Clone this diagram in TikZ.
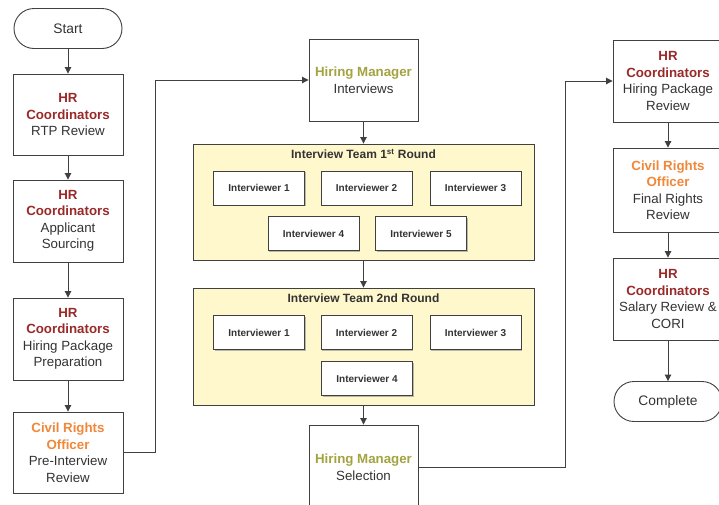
\documentclass[tikz,border=0pt]{standalone}
\usepackage{fontspec}
\setmainfont{Liberation Sans}
\usetikzlibrary{arrows.meta,shadows}
\definecolor{hrc}{HTML}{9A2A2A}
\definecolor{cro}{HTML}{F0883A}
\definecolor{hmc}{HTML}{A3A340}
\definecolor{teamfill}{HTML}{FFF8CC}
\definecolor{txt}{HTML}{333333}
\definecolor{ln}{HTML}{404040}
\newcommand{\hrA}{\textbf{\textcolor{hrc}{HR}}}
\newcommand{\hrB}{\textbf{\textcolor{hrc}{Coordinators}}}
\newcommand{\crA}{\textbf{\textcolor{cro}{Civil Rights}}}
\newcommand{\crB}{\textbf{\textcolor{cro}{Officer}}}
\newcommand{\hmname}{\textbf{\textcolor{hmc}{Hiring Manager}}}
\begin{document}
\begin{tikzpicture}[x=1pt,y=-1pt,
  box/.style={draw=ln, line width=0.9pt, fill=white, align=center, text=txt,
    font=\fontsize{13.3}{16.5}\selectfont, inner sep=0pt, minimum width=110pt, minimum height=82pt},
  term/.style={draw=ln, line width=0.9pt, fill=white, align=center, text=txt,
    font=\fontsize{13.8}{15}\selectfont, inner sep=0pt, minimum width=108pt, minimum height=40pt,
    rounded corners=20pt},
  team/.style={draw=ln, line width=0.9pt, fill=teamfill, inner sep=0pt, minimum width=341pt},
  teamtitle/.style={font=\bfseries\fontsize{12}{13}\selectfont, text=black!80},
  iv/.style={draw=ln, line width=0.9pt, fill=white, inner sep=0pt, minimum width=91pt, minimum height=34pt,
    font=\bfseries\fontsize{10}{11}\selectfont, text=txt,
    drop shadow={shadow xshift=1pt, shadow yshift=-1pt, fill=black!45, opacity=0.6}},
  arr/.style={draw=ln, line width=0.9pt, -{Triangle[length=6.5pt,width=6.5pt]}}
]
\useasboundingbox (0,0) rectangle (719,504);
\clip (0,0) rectangle (719,504);

% left column
\node[term] (start) at (68,28.5) {Start};
\node[box, minimum height=81pt] (b1) at (68,114.5) {\hrA\\\hrB\\RTP Review};
\node[box] (b2) at (68,221) {\hrA\\\hrB\\Applicant\\Sourcing};
\node[box] (b3) at (68,339) {\hrA\\\hrB\\Hiring Package\\Preparation};
\node[box, minimum height=81pt] (b4) at (68,452.5) {\crA\\\crB\\Pre-Interview\\Review};

% middle column
\node[box, minimum width=109pt] (hmi) at (363.5,80) {\hmname\\Interviews};
\node[team, minimum height=116pt] (t1) at (363.5,202) {};
\node[teamtitle] (t1t) at (363.5,154) {Interview Team 1\textsuperscript{st} Round};
\node[iv] (a1) at (259,188) {Interviewer 1};
\node[iv] (a2) at (366.5,188) {Interviewer 2};
\node[iv] (a3) at (475.5,188) {Interviewer 3};
\node[iv] (a4) at (313.5,233.5) {Interviewer 4};
\node[iv] (a5) at (421,233.5) {Interviewer 5};

\node[team, minimum height=117pt] (t2) at (363.5,346.5) {};
\node[teamtitle] (t2t) at (363.5,298) {Interview Team 2nd Round};
\node[iv] (c1) at (259,332.5) {Interviewer 1};
\node[iv] (c2) at (366.5,332.5) {Interviewer 2};
\node[iv] (c3) at (475.5,332.5) {Interviewer 3};
\node[iv] (c4) at (367,378.5) {Interviewer 4};

\node[box, minimum width=109pt, minimum height=84pt] (sel) at (363.5,467) {\hmname\\Selection};

% right column
\node[box] (r1) at (668,81) {\hrA\\\hrB\\Hiring Package\\Review};
\node[box, minimum height=84pt] (r2) at (668,190) {\crA\\\crB\\Final Rights\\Review};
\node[box] (r3) at (668,299) {\hrA\\\hrB\\Salary Review \&\\CORI};
\node[term] (done) at (668,401.5) {Complete};

% connectors
\draw[arr] (start) -- (b1);
\draw[arr] (b1) -- (b2);
\draw[arr] (b2) -- (b3);
\draw[arr] (b3) -- (b4);
\coordinate (k1) at (155,80);
\draw[arr] (b4.east) -| (k1) -- (hmi.west);
\draw[arr] (hmi) -- (t1);
\draw[arr] (t1) -- (t2);
\draw[arr] (t2) -- (sel);
\coordinate (k2) at (565,81);
\draw[arr] (sel.east) -| (k2) -- (r1.west);
\draw[arr] (r1) -- (r2);
\draw[arr] (r2) -- (r3);
\draw[arr] (r3) -- (done);
\end{tikzpicture}
\end{document}
